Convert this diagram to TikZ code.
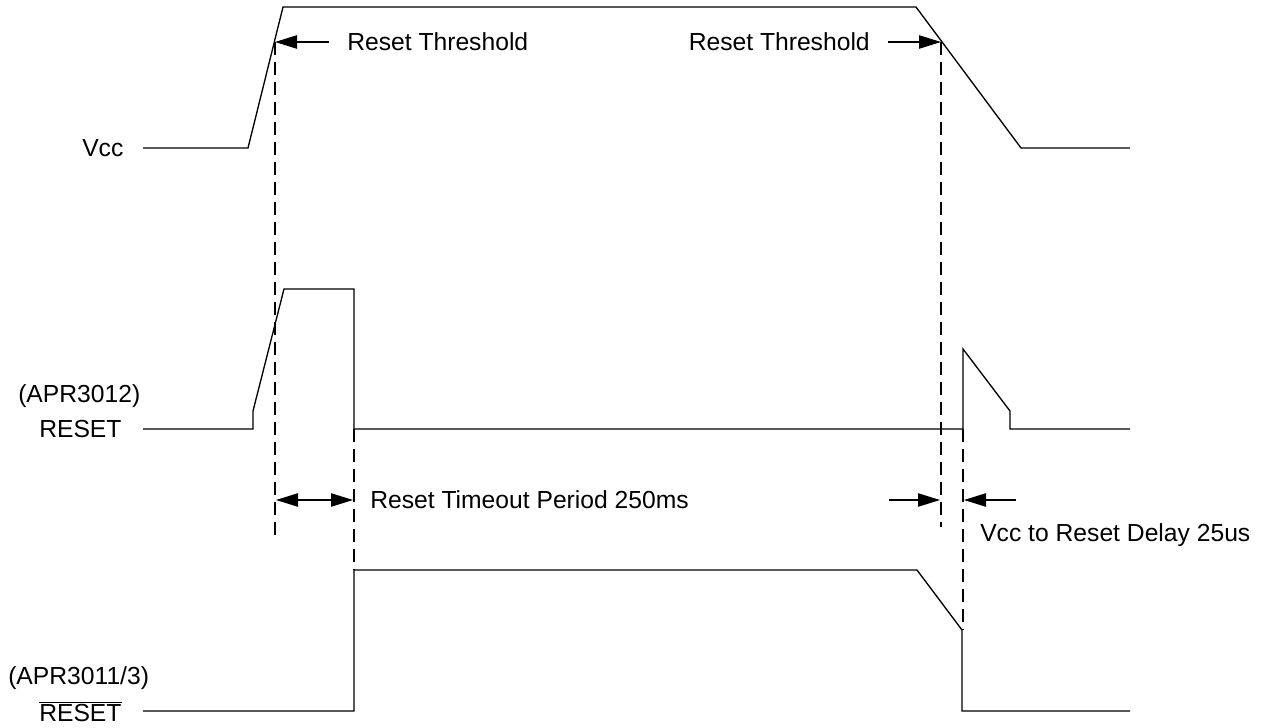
\documentclass[tikz,border=0pt]{standalone}
\usepackage{fontspec}
\setmainfont{Liberation Sans}
\usetikzlibrary{arrows.meta}

\tikzset{
  wave/.style={line width=1pt, line join=miter},
  guide/.style={line width=1.9pt, dash pattern=on 9.5pt off 5.5pt},
  marker/.style={line width=1pt, -{Triangle[length=16.5pt,width=10pt]}},
  span/.style={line width=1pt, {Triangle[length=16.5pt,width=10pt]}-{Triangle[length=16.5pt,width=10pt]}},
  lbl/.style={inner sep=0pt, anchor=west, font=\fontsize{18.5}{22}\selectfont}
}

\begin{document}
\begin{tikzpicture}[x=0.75pt,y=0.75pt,yscale=-1,xscale=1]
        \useasboundingbox (0,0) rectangle (1264,728);

        %Labels of the signals
        \node[lbl] (vcc) at (82,148) {Vcc};
        \node[lbl] (apr12) at (18,396) {(APR3012)};
        \node[lbl] (rst) at (39,429) {RESET};
        \node[lbl] (apr11) at (8,678) {(APR3011/3)};
        \node[lbl] (nrst) at (39,712) {$\overline{\mbox{RESET}}$};

        %Shape: Vcc waveform
        \draw [wave] (143,148) -- (248,148) -- (283,7) -- (916,7) -- (1021,148) -- (1130,148) ;
        %Shape: RESET waveform (APR3012)
        \draw [wave] (143,429) -- (253,429) -- (253,411) -- (284,289) -- (354,289) -- (354,429) -- (963,429) -- (963,349) -- (1010,411) -- (1010,429) -- (1130,429) ;
        %Shape: /RESET waveform (APR3011/3)
        \draw [wave] (143,711) -- (354,711) -- (354,570) -- (917,570) -- (962,630) -- (962,711) -- (1130,711) ;

        %Threshold points
        \coordinate (thrup) at (275,42);
        \coordinate (thrdn) at (941,42);
        \coordinate (toend) at (354,429);
        \coordinate (dlend) at (963,429);

        %Dashed guides
        \draw [guide] (thrup) -- (275,535) ;
        \draw [guide] (thrdn) -- (941,527) ;
        \draw [guide] (toend) -- (354,570) ;
        \draw [guide] (dlend) -- (963,630) ;

        %Reset threshold markers
        \node[lbl] (thrtxtA) at (347,42) {Reset Threshold};
        \node[lbl, anchor=east] (thrtxtB) at (870,42) {Reset Threshold};
        \coordinate (tailA) at (329,42);
        \coordinate (tailB) at (888,42);
        \draw [marker] (tailA) -- (thrup) ;
        \draw [marker] (tailB) -- (thrdn) ;

        %Timeout period
        \coordinate (spanA) at (276,500);
        \coordinate (spanB) at (353,500);
        \draw [span] (spanA) -- (spanB) ;
        \node[lbl] (totxt) at (370,500) {Reset Timeout Period 250ms};

        %Vcc to reset delay
        \coordinate (dlA) at (889,500);
        \coordinate (dlB) at (1016,500);
        \coordinate (dlAtip) at (940,500);
        \coordinate (dlBtip) at (964,500);
        \draw [marker] (dlA) -- (dlAtip) ;
        \draw [marker] (dlB) -- (dlBtip) ;
        \node[lbl] (dltxt) at (980,535) {Vcc to Reset Delay 25us};
\end{tikzpicture}
\end{document}
